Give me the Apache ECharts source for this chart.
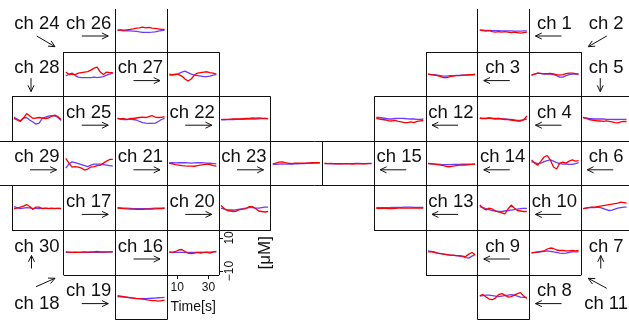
<!DOCTYPE html>
<html>
<head>
<meta charset="utf-8">
<script src="https://cdn.jsdelivr.net/npm/echarts@6/dist/echarts.min.js"></script>
<style>
  html, body { margin: 0; background: #fff; }
  #chart { width: 629px; height: 320px; }
</style>
</head>
<body>
<div id="chart"></div>
<script>
// sample times (s), shared by every channel
const times = [5, 7, 9, 11, 13, 15, 17, 19, 21, 23, 25, 27, 29, 31, 33, 35];
const xTicks = [10, 30];
const yTicks = [-10, 10];

// oxy-Hb (red), one row per channel, ch 1 first
const oxyHb = [
  [0.8, 0.5, 0.2, 0.5, -0.1, -0.4, -0.1, -0.4, -0.1, -0.4, -0.7, -0.4, -0.7, -1.0, -0.7, -0.4], // ch 1
  [0.6, 1.2, 1.8, 1.6, 1.5, 1.5, 1.6, 1.3, 0.9, 0.6, 0.9, 1.5, 1.8, 1.8, 1.5, 1.2],
  [1.2, 0.9, 0.6, 0.3, -0.3, -1.0, -0.9, -0.3, 0, 0.3, 0.3, 0.6, 0.6, 0.9, 0.9, 1.2],
  [1.4, 1.3, 1.3, 1.6, 1.3, 1.0, 1.3, 1.0, 0.7, 0.7, 0.4, 0.1, -0.2, -0.2, 0.4, 2.8],
  [2.0, 1.3, 0.7, 0.4, 0.1, -0.2, -0.2, -0.5, -0.2, -0.5, -0.8, -1.2, -1.3, -0.8, -0.5, -0.5], // ch 5
  [3.2, 1.3, 0.1, 2.5, 5.0, 5.9, 3.2, -1.1, -2.3, 1.3, 1.9, 1.3, 2.5, 3.2, 2.5, 2.8],
  [0.8, 1.1, 1.4, 1.7, 1.7, 2.0, 2.3, 2.6, 2.9, 3.2, 3.5, 3.8, 4.1, 4.7, 4.4, 4.1],
  [2.1, 2.7, 1.2, 0, -0.3, 0.6, 2.7, 3.3, 2.4, 1.2, 1.5, 2.4, 3.3, 3.9, 1.8, 0.3],
  [1.6, 1.5, 1.2, 0.8, 0.5, 0.2, -0.1, -0.4, -0.4, -0.7, -0.7, -1.0, -1.3, 0.2, 1.2, -0.1],
  [2.9, 1.1, -0.1, 1.1, 0.5, -0.7, -1.3, -1.9, -2.5, 0.5, 2.9, 1.1, -0.4, -0.7, -1.0, -1.0], // ch 10
  [1.0, 1.2, 1.5, 1.8, 2.1, 3.3, 3.9, 3.6, 2.7, 2.4, 2.4, 2.2, 2.2, 2.4, 2.2, 2.4],
  [1.4, 1.0, 0.7, 0.4, -0.1, -0.2, 0.1, -0.5, -0.8, -1.2, -1.2, -0.8, -1.2, -0.5, -0.2, 0.1],
  [0.9, 0.8, 1.0, 0.9, 0.8, 0.7, 0.9, 1.0, 1.1, 1.0, 1.0, 1.1, 1.2, 1.0, 1.0, 1.0],
  [1.2, 0.9, 0.7, 0.4, 0.1, -0.2, -0.8, -0.9, -0.5, -0.2, 0.1, 0.1, 0.1, 0.4, 0.5, 0.7],
  [1.2, 1.0, 1.1, 1.0, 0.9, 0.9, 0.8, 0.9, 0.8, 0.7, 0.8, 0.8, 0.9, 0.9, 1.0, 1.0], // ch 15
  [1.5, 1.2, 1.8, 2.7, 3.0, 1.8, 0.8, 0.5, 0.8, 1.2, 0.8, 1.2, 1.2, 0.8, 1.5, 1.8],
  [1.0, 0.9, 0.8, 0.6, 0.5, 0.4, 0.3, 0.3, 0.3, 0.4, 0.4, 0.5, 0.6, 0.7, 0.8, 0.9],
  [1.5, 1.4, 1.3, 1.4, 1.3, 1.4, 1.5, 1.4, 1.5, 1.6, 1.8, 1.6, 1.5, 1.5, 1.6, 1.7],
  [2.0, 1.8, 1.5, 1.2, 0.9, 0.6, 0.3, 0.3, 0, -0.3, -0.6, -0.9, -0.9, -1.2, -0.9, -0.6],
  [2.6, 0.8, -0.4, -0.7, -1.0, -0.7, 0.2, 0.5, 0.8, 2.0, 2.0, 0.8, -0.7, -1.0, -1.3, -1.0], // ch 20
  [1.2, 0.9, 0.4, 0.1, -0.2, -0.4, -0.5, -0.5, -0.6, -0.2, 0.1, 0.4, 0.7, 0.4, -0.2, -0.5],
  [0.6, 0.8, 0.8, 0.9, 1.0, 1.0, 1.1, 1.2, 1.3, 1.4, 1.6, 1.5, 1.7, 1.5, 1.4, 1.2],
  [0.7, 1.3, 1.9, 2.1, 1.6, 1.2, 1.0, 1.2, 1.2, 1.3, 1.2, 1.3, 1.5, 1.5, 1.6, 1.6],
  [2.4, 0.9, 1.2, 0.9, 1.8, 2.1, 2.4, 2.7, 3.6, 4.8, 5.4, 2.4, 0.9, 2.4, 2.1, 2.1],
  [1.4, 1.0, 1.3, 0.7, 1.3, 1.3, 1.6, 1.9, 2.2, 1.9, 2.5, 3.0, 2.2, 1.9, 2.0, 2.4], // ch 25
  [0.8, 1.0, 0.8, 1.0, 1.2, 1.5, 2.0, 2.2, 2.6, 2.2, 2.4, 2.0, 1.8, 1.6, 1.2, 1.2],
  [1.2, 0.9, 1.2, 0.9, 0, -1.8, -3.0, -1.8, 0.6, 1.8, 2.1, 2.4, 2.6, 2.1, 1.8, 1.2],
  [1.4, 0.4, -0.5, 1.6, 4.3, 2.8, 1.4, 1.6, 1.9, 1.6, 1.3, 1.6, 2.8, 3.4, 2.4, 0.7],
  [4.1, 1.3, -1.1, -0.8, -1.1, -1.7, -2.9, -2.3, -1.1, -0.8, -0.2, 0.1, 1.3, 2.5, 3.5, 3.6],
  [0.8, 1.1, 1.7, 2.3, 3.2, 2.0, 0.2, 1.7, 1.7, 0.8, 1.1, 0.8, 1.1, 0.8, 0.9, 0.9] // ch 30
];

// deoxy-Hb (blue), one row per channel, ch 1 first
const deoxyHb = [
  [0.8, 0.8, 0.7, 0.7, 0.5, 0.5, 0.5, 0.4, 0.4, 0.4, 0.4, 0.2, 0.2, 0.2, 0.4, 0.4], // ch 1
  [0.6, 1.2, 1.8, 1.5, 1.2, 1.2, 1.2, 0.9, 0.3, -0.6, -0.6, 0.3, 0.9, 1.2, 1.2, 1.2],
  [1.2, 0.9, 0.8, 0.6, 0.3, 0, 0, 0.2, 0.3, 0.4, 0.4, 0.6, 0.6, 0.6, 0.8, 0.8],
  [1.6, 1.4, 1.4, 1.6, 1.4, 1.3, 1.3, 1.1, 1.0, 0.8, 0.7, 0.4, 0.1, 0.1, 0.7, 1.0],
  [1.9, 1.6, 1.3, 1.2, 1.0, 1.0, 1.0, 1.0, 0.8, 0.8, 0.8, 0.7, 0.7, 0.8, 0.8, 0.8], // ch 5
  [2.2, 1.6, 1.0, 1.3, 2.2, 2.8, 3.2, 2.5, 1.6, 1.0, 0.7, 0.7, 0.5, 0.5, 1.0, 1.6],
  [0.8, 1.1, 1.4, 1.5, 1.4, 1.7, 1.4, 0.8, 0.2, -0.4, -0.1, 0.5, 1.1, 1.4, 1.7, 1.7],
  [1.8, 2.1, 2.4, 2.4, 2.1, 1.8, 1.5, 1.8, 2.1, 2.4, 2.7, 2.4, 1.8, 1.2, 1.0, 1.0],
  [2.1, 1.8, 1.5, 0.8, 0.5, 0.2, -0.1, -0.4, -0.5, -0.7, -1.0, -1.3, -1.9, -2.2, -1.0, -0.1],
  [2.0, 1.4, 0.8, 0.2, -0.4, -0.7, -1.0, -1.0, -0.7, -0.4, -0.1, 0.2, 0.5, 0.8, 0.9, 0.9], // ch 10
  [1.0, 1.2, 1.3, 1.5, 1.8, 2.1, 1.8, 1.5, 1.2, 0.8, 0.7, 0.8, 1.2, 1.5, 1.6, 1.6],
  [1.9, 1.9, 1.6, 1.3, 1.0, 1.0, 1.3, 1.4, 1.4, 1.3, 1.1, 1.0, 1.0, 0.8, 0.8, 1.0],
  [1.3, 1.3, 1.4, 1.4, 1.4, 1.5, 1.5, 1.5, 1.5, 1.6, 1.6, 1.6, 1.5, 1.5, 1.5, 1.5],
  [1.0, 0.9, 0.7, 0.7, 0.5, 0.4, 0.4, 0.4, 0.5, 0.5, 0.5, 0.6, 0.6, 0.7, 0.7, 0.7],
  [1.0, 1.0, 1.0, 0.9, 0.9, 0.9, 1.0, 1.0, 1.0, 1.0, 1.1, 1.1, 1.0, 1.0, 1.1, 1.1], // ch 15
  [1.3, 1.3, 1.2, 1.3, 1.2, 1.3, 1.3, 1.2, 1.3, 1.3, 1.4, 1.3, 1.4, 1.4, 1.5, 1.5],
  [1.3, 1.2, 1.1, 1.0, 0.9, 0.8, 0.7, 0.7, 0.7, 0.8, 0.8, 0.9, 1.0, 1.1, 1.1, 1.2],
  [1.2, 1.2, 1.3, 1.2, 1.3, 1.3, 1.2, 1.3, 1.3, 1.3, 1.4, 1.3, 1.3, 1.4, 1.4, 1.4],
  [1.5, 1.4, 1.2, 1.0, 0.7, 0.6, 0.4, 0.3, 0.3, 0.3, 0.4, 0.5, 0.6, 0.8, 0.9, 1.0],
  [1.1, 0.5, 0, -0.1, -0.1, 0.2, 0.5, 0.7, 1.1, 1.4, 1.4, 1.1, 1.1, 1.4, 1.7, 1.7], // ch 20
  [1.5, 1.5, 1.4, 1.5, 1.6, 1.5, 1.4, 1.3, 1.4, 1.5, 1.5, 1.4, 1.3, 1.2, 1.0, 0.8],
  [0.6, 0.5, 0.6, 0.6, 0.7, 0.8, 0.8, 0.8, 0.9, 0.9, 1.0, 1.0, 1.1, 1.2, 1.3, 1.2],
  [0.7, 0.5, 0.7, 0.8, 0.7, 0.7, 0.7, 0.8, 0.8, 1.0, 1.0, 1.2, 1.2, 1.3, 1.3, 1.3],
  [0, 1.2, 1.8, 0.3, -0.6, -0.9, -0.9, -0.9, -0.9, -0.6, -0.9, -0.6, -0.3, 0.6, 1.2, 1.8],
  [1.4, 1.0, 0.7, 0.7, 1.0, 0.7, 0.4, -0.5, -1.2, -1.5, -1.6, -1.6, -1.5, -0.5, 0.7, 1.4], // ch 25
  [0.8, 0.6, 0.4, 0.5, 0.4, 0.2, 0, -0.3, -0.5, -0.6, -0.5, -0.4, -0.2, 0.2, 0.5, 0.8],
  [0.6, 0.6, 0.9, 1.5, 2.4, 3.0, 2.1, 1.2, 0.6, 0.3, 0, -0.3, -0.3, 0, 0.6, 0.9],
  [2.2, 1.0, -0.1, 1.6, 1.9, 0.4, -0.8, -2.1, -1.5, 1.3, 2.2, 2.8, 3.1, 2.8, 1.9, 0.1],
  [-1.7, 0.7, 2.1, 1.6, 1.0, 0.4, -0.2, -0.8, 0.1, 0.7, 0.7, 0.7, 0.4, 0.1, -0.2, -0.5],
  [1.9, 1.4, 0.8, 1.1, 1.4, 1.2, 0.9, 0.9, 0.8, 0.9, 0.9, 0.9, 0.8, 0.9, 0.9, 0.8] // ch 30
];

// layout: [row, col] of each channel's plot, ch 1 first
const plotCell = [
  [0, 9], [1, 10], [1, 8], [2, 9], [2, 11], [3, 10], [4, 11], [6, 9], [5, 8], [4, 9],
  [5, 10], [2, 7], [4, 7], [3, 8], [3, 6], [5, 3], [4, 2], [5, 1], [6, 2], [4, 4],
  [3, 3], [2, 4], [3, 5], [1, 1], [2, 2], [0, 2], [1, 3], [2, 0], [3, 1], [4, 0]
];
// layout: [row, col, arrow] of each channel's label, ch 1 first
const labelCell = [
  [0, 10, 'left'], [0, 11, 'downleft'], [1, 9, 'left'], [2, 10, 'left'], [1, 11, 'down'],
  [3, 11, 'left'], [5, 11, 'up'], [6, 10, 'left'], [5, 9, 'left'], [4, 10, 'left'],
  [6, 11, 'upleft'], [2, 8, 'left'], [4, 8, 'left'], [3, 9, 'left'], [3, 7, 'left'],
  [5, 2, 'right'], [4, 1, 'right'], [6, 0, 'upright'], [6, 1, 'right'], [4, 3, 'right'],
  [3, 2, 'right'], [2, 3, 'right'], [3, 4, 'right'], [0, 0, 'downright'], [2, 1, 'right'],
  [0, 1, 'right'], [1, 2, 'right'], [1, 0, 'down'], [3, 0, 'right'], [5, 0, 'up']
];
const axisChannel = 16; // panel that carries the scale axes

const CW = 51.75, CH = 44.6;
const colX = i => 12 + CW * i;
const rowY = j => 7.5 + CH * j;
const crisp = v => Math.floor(v) + 0.5;
const FONT = '"Liberation Sans", Arial, sans-serif';
const INK = '#111';

const chart = echarts.init(document.getElementById('chart'), null, { renderer: 'canvas' });

const grids = [], xAxes = [], yAxes = [], series = [];
plotCell.forEach(([r, c], i) => {
  const withAxes = i + 1 === axisChannel;
  grids.push({ left: colX(c), top: rowY(r), width: CW, height: CH, show: false });
  xAxes.push({
    type: 'value', gridIndex: i, min: 3.7, max: 36.7, show: withAxes, position: 'bottom',
    axisLine: { show: false, onZero: false }, splitLine: { show: false },
    axisTick: { show: true, customValues: xTicks, length: 4, lineStyle: { color: INK } },
    axisLabel: { show: true, customValues: xTicks, fontSize: 12, fontFamily: FONT, color: INK, margin: 7 },
    name: withAxes ? 'Time[s]' : '', nameLocation: 'middle', nameGap: 25,
    nameTextStyle: { fontSize: 14, fontFamily: FONT, color: INK }
  });
  yAxes.push({
    type: 'value', gridIndex: i, min: -12.5, max: 14.5, show: withAxes, position: 'right',
    axisLine: { show: false, onZero: false }, splitLine: { show: false },
    axisTick: { show: true, customValues: yTicks, length: 4, lineStyle: { color: INK } },
    axisLabel: {
      show: true, customValues: yTicks, rotate: 90, fontSize: 12, fontFamily: FONT, color: INK, margin: 5,
      formatter: v => String(v).replace('-', '\u2212')
    },
    name: withAxes ? '[μM]' : '', nameLocation: 'middle', nameRotate: 90, nameGap: 38,
    nameTextStyle: { fontSize: 17, fontFamily: FONT, color: INK }
  });
  [[deoxyHb[i], '#6a3cff'], [oxyHb[i], '#ff0000']].forEach(([vals, color]) => {
    series.push({
      type: 'line', xAxisIndex: i, yAxisIndex: i, showSymbol: false, silent: true,
      data: times.map((t, k) => [t, vals[k]]),
      lineStyle: { color, width: 1.3 }
    });
  });
});

// box outlines
const graphics = [];
const seg = (x1, y1, x2, y2) => graphics.push({
  type: 'line', silent: true,
  shape: { x1, y1, x2, y2 }, style: { stroke: INK, lineWidth: 1 }
});
const hLine = (xa, xb, y) => seg(xa, crisp(y), xb, crisp(y));
const vLine = (x, ya, yb) => seg(crisp(x), ya, crisp(x), yb);

const boxRuns = [[1, 1, 3], [1, 8, 10], [2, 0, 4], [2, 7, 11], [4, 0, 4], [4, 7, 11], [5, 1, 3], [5, 8, 10]];
boxRuns.forEach(([r, a, b]) => {
  hLine(colX(a), colX(b + 1), rowY(r));
  hLine(colX(a), colX(b + 1), rowY(r + 1));
  for (let c = a; c <= b + 1; c++) vLine(colX(c), rowY(r), rowY(r + 1));
});
hLine(0, 629, rowY(3));
hLine(0, 629, rowY(4));
for (let c = 1; c <= 11; c++) vLine(colX(c), rowY(3), rowY(4));
[2, 9].forEach(c => {
  vLine(colX(c), 9, rowY(1));
  vLine(colX(c + 1), 9, rowY(1));
  vLine(colX(c), rowY(6), rowY(7));
  vLine(colX(c + 1), rowY(6), rowY(7));
  hLine(colX(c), colX(c + 1), rowY(7));
});

// channel labels and arrows
const arrowGeom = {
  right: [18, 28.5, 44.5, 28.5],
  left: [32, 28.5, 6, 28.5],
  down: [19, 26, 19, 39.5],
  up: [19.5, 38, 19.5, 25],
  downright: [24.7, 28.5, 43, 39.2],
  downleft: [25.5, 28.5, 7, 39.2],
  upright: [24, 11.6, 43, 3.2],
  upleft: [25.5, 13.2, 7, 3.2]
};
const arrow = (x1, y1, x2, y2) => {
  const ang = Math.atan2(y2 - y1, x2 - x1), len = 7, spread = 0.45;
  const head = s => [x2 - len * Math.cos(ang + s), y2 - len * Math.sin(ang + s)];
  [[[x1, y1], [x2, y2]], [head(spread), [x2, y2], head(-spread)]].forEach(points => graphics.push({
    type: 'polyline', silent: true, shape: { points },
    style: { stroke: INK, lineWidth: 1, fill: null }
  }));
};
labelCell.forEach(([r, c, dir], i) => {
  const L = colX(c), T = rowY(r);
  const low = dir === 'upright' || dir === 'upleft' ? 13 : 0;
  graphics.push({
    type: 'text', silent: true,
    style: {
      text: 'ch ' + (i + 1), x: L + CW / 2 - 1, y: T + 16 + low,
      fill: INK, font: '18.5px ' + FONT, align: 'center', verticalAlign: 'middle'
    }
  });
  const g = arrowGeom[dir];
  arrow(L + g[0], T + g[1], L + g[2], T + g[3]);
});

chart.setOption({
  animation: false,
  backgroundColor: '#fff',
  grid: grids,
  xAxis: xAxes,
  yAxis: yAxes,
  series,
  graphic: { elements: graphics }
});
</script>
</body>
</html>
